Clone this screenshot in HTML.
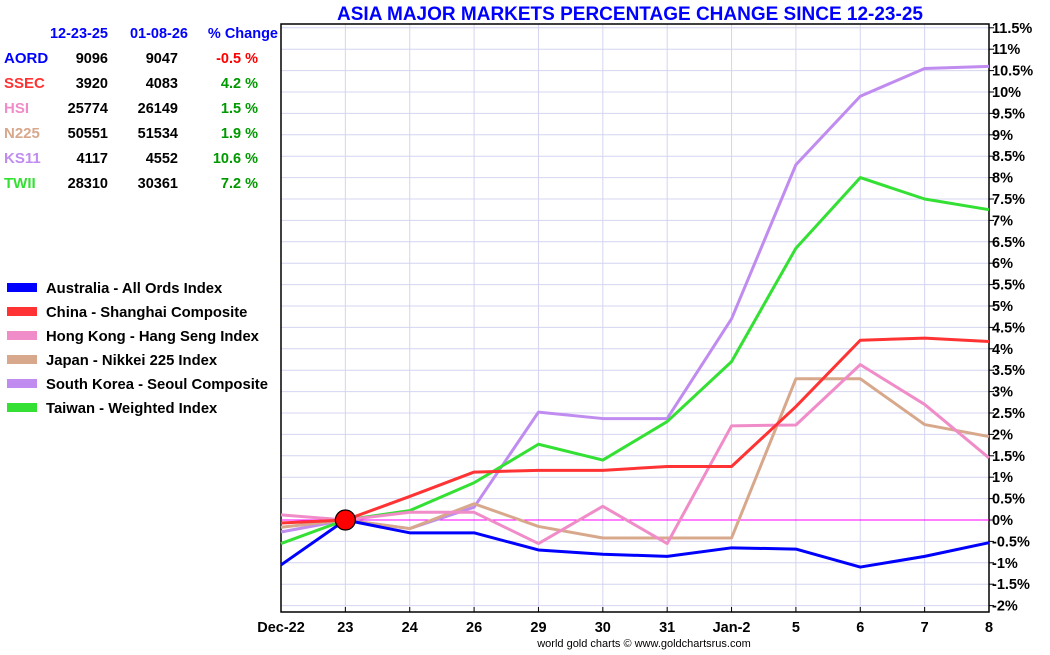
<!DOCTYPE html>
<html><head><meta charset="utf-8"><style>
body{margin:0;background:#fff;font-family:"Liberation Sans",Arial,sans-serif;}
svg text{font-family:"Liberation Sans",Arial,sans-serif;font-weight:bold;}
</style></head><body>
<svg id="c" width="1050" height="650" viewBox="0 0 1050 650"></svg>
<script>
const categories=["Dec-22","23","24","26","29","30","31","Jan-2","5","6","7","8"];
const aord=[-1.05,0,-0.3,-0.3,-0.7,-0.8,-0.85,-0.65,-0.68,-1.1,-0.85,-0.53];
const ssec=[-0.07,0,0.55,1.12,1.16,1.16,1.25,1.25,2.65,4.2,4.25,4.17];
const hsi=[0.12,0,0.18,0.18,-0.55,0.32,-0.55,2.2,2.22,3.63,2.7,1.45];
const n225=[-0.17,0,-0.2,0.38,-0.15,-0.42,-0.42,-0.42,3.3,3.3,2.23,1.95];
const ks11=[-0.28,0,-0.2,0.3,2.52,2.37,2.37,4.7,8.3,9.9,10.55,10.6];
const twii=[-0.55,0,0.22,0.87,1.77,1.4,2.3,3.7,6.35,8.0,7.5,7.25];
const seriesNames=["Australia - All Ords Index","China - Shanghai Composite","Hong Kong - Hang Seng Index","Japan - Nikkei 225 Index","South Korea - Seoul Composite","Taiwan - Weighted Index"];
const colors=["#0000ff","#ff3333","#f08cc8","#d8a88c","#c08cf0","#33e033"];
const tickValues=[-2,-1.5,-1,-0.5,0,0.5,1,1.5,2,2.5,3,3.5,4,4.5,5,5.5,6,6.5,7,7.5,8,8.5,9,9.5,10,10.5,11,11.5];
const tableRows=[["AORD","9096","9047","-0.5 %"],["SSEC","3920","4083","4.2 %"],["HSI","25774","26149","1.5 %"],["N225","50551","51534","1.9 %"],["KS11","4117","4552","10.6 %"],["TWII","28310","30361","7.2 %"]];
const NS="http://www.w3.org/2000/svg";
const svg=document.getElementById('c');
const X0=281,X1=989,Y0=520,PX=42.8;
const x=i=>X0+i*(X1-X0)/(categories.length-1);
const y=v=>Y0-v*PX;
function mk(t,a,p){const e=document.createElementNS(NS,t);for(const k in a)e.setAttribute(k,a[k]);(p||svg).appendChild(e);return e;}
let e;
tickValues.forEach(v=>{e=mk('line',{x1:X0,x2:X1,y1:y(v),y2:y(v),stroke:'#d4d4f0','stroke-width':1});


e=mk('line',{x1:X1,x2:X1+5,y1:y(v),y2:y(v),stroke:'#000'});


e=mk('text',{x:X1+3,y:y(v)+5,'font-size':14.5,fill:'#000'});e.textContent=v+'%';

});
categories.forEach((c,i)=>{e=mk('line',{x1:x(i),x2:x(i),y1:24,y2:612,stroke:'#d4d4f0'});


e=mk('line',{x1:x(i),x2:x(i),y1:612,y2:607,stroke:'#000'});


e=mk('text',{x:x(i),y:632,'font-size':14.5,'text-anchor':'middle',fill:'#000'});e.textContent=c;

});
e=mk('rect',{x:X0,y:24,width:X1-X0,height:588,fill:'none',stroke:'#000','stroke-width':1.5});


e=mk('line',{x1:X0,x2:X1,y1:y(0),y2:y(0),stroke:'#ff00ff','stroke-width':1});


const series=[aord,ssec,hsi,n225,ks11,twii];
const order=[4,5,3,2,1,0];
order.forEach(s=>{e=mk('polyline',{points:series[s].map((v,i)=>x(i)+','+y(v)).join(' '),fill:'none',stroke:colors[s],'stroke-width':3,'stroke-linejoin':'round'});

});
e=mk('circle',{cx:x(1),cy:y(0),r:10,fill:'#ff0000',stroke:'#000','stroke-width':1.2});


e=mk('text',{x:630,y:20,'font-size':19,'text-anchor':'middle',fill:'#0000ff'});e.textContent='ASIA MAJOR MARKETS PERCENTAGE CHANGE SINCE 12-23-25';


e=mk('text',{x:644,y:647,'font-size':11,'text-anchor':'middle',fill:'#000'});e.textContent='world gold charts © www.goldchartsrus.com';e.style.fontWeight='normal';


[["12-23-25",108],["01-08-26",188],["% Change",278]].forEach(h=>{e=mk('text',{x:h[1],y:38,'font-size':14.5,'text-anchor':'end',fill:'#0000ff'});e.textContent=h[0];

});
tableRows.forEach((r,k)=>{const yy=63+k*25;
e=mk('text',{x:4,y:yy,'font-size':15,fill:colors[k]});e.textContent=r[0];


e=mk('text',{x:108,y:yy,'font-size':14.5,'text-anchor':'end',fill:'#000'});e.textContent=r[1];


e=mk('text',{x:178,y:yy,'font-size':14.5,'text-anchor':'end',fill:'#000'});e.textContent=r[2];


e=mk('text',{x:258,y:yy,'font-size':14.5,'text-anchor':'end',fill:r[3][0]=='-'?'#ff0000':'#009900'});e.textContent=r[3];

});
seriesNames.forEach((n,k)=>{const yy=288+k*24;
e=mk('rect',{x:7,y:yy-5,width:30,height:9,fill:colors[k]});


e=mk('text',{x:46,y:yy+5,'font-size':14.8,fill:'#000'});e.textContent=n;

});
</script></body></html>
